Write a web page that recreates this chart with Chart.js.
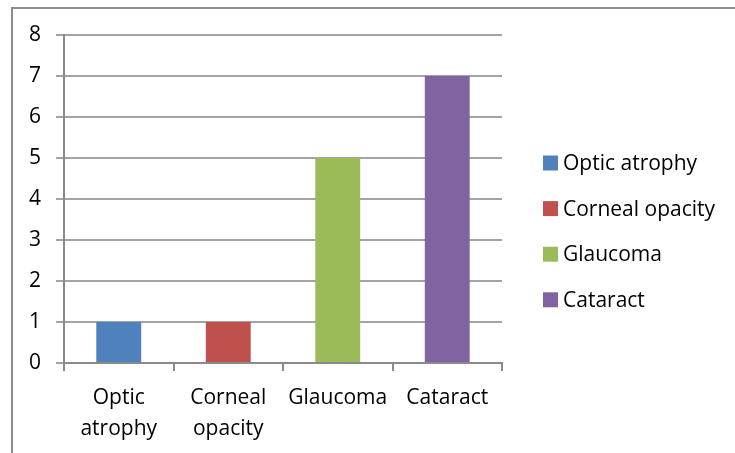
<!DOCTYPE html>
<html>
<head>
<meta charset="utf-8">
<script src="https://cdn.jsdelivr.net/npm/chart.js@4"></script>
<style>
  html, body { margin: 0; padding: 0; background: #fff; }
  #wrap { width: 735px; height: 453px; position: relative; }
</style>
</head>
<body>
<div id="wrap"><canvas id="c" width="735" height="453"></canvas></div>
<script>
// Eye conditions and case counts
const categories = [["Optic", "atrophy"], ["Corneal", "opacity"], "Glaucoma", "Cataract"];
const seriesNames = ["Optic atrophy", "Corneal opacity", "Glaucoma", "Cataract"];
const seriesValues = [1, 1, 5, 7];
const seriesColors = ["#4F81BD", "#C0504D", "#9BBB59", "#8064A2"];
const yTicks = [0, 1, 2, 3, 4, 5, 6, 7, 8];

const FONT = "'Open Sans', Lato, sans-serif";
const FONT_SIZE = 21;
const TEXT = "#000000";

// one dataset per condition, each with a single bar in its own category
const datasets = seriesNames.map((name, i) => ({
  label: name,
  data: seriesValues.map((v, j) => (j === i ? v : null)),
  backgroundColor: seriesColors[i],
  borderWidth: 0,
  grouped: false,
  categoryPercentage: 1,
  barPercentage: 0.41
}));

// outer frame of the chart box
const framePlugin = {
  id: "frame",
  beforeDraw(chart) {
    const ctx = chart.ctx;
    ctx.save();
    ctx.fillStyle = "#ffffff";
    ctx.fillRect(0, 0, chart.width, chart.height);
    ctx.strokeStyle = "#8c8c8c";
    ctx.lineWidth = 2;
    ctx.strokeRect(12, 8, chart.width + 20, chart.height + 20);
    ctx.restore();
  }
};

// legend column to the right of the plot
const legendPlugin = {
  id: "sideLegend",
  afterDraw(chart) {
    const ctx = chart.ctx;
    const area = chart.chartArea;
    const x0 = area.right + 41;
    const y0 = area.top + 128;
    const step = 45.6;
    ctx.save();
    ctx.font = FONT_SIZE + "px " + FONT;
    ctx.textBaseline = "middle";
    ctx.textAlign = "left";
    chart.data.datasets.forEach((ds, i) => {
      const cy = y0 + i * step;
      ctx.fillStyle = ds.backgroundColor;
      ctx.fillRect(x0, cy - 7.5, 15, 15);
      ctx.fillStyle = TEXT;
      ctx.fillText(ds.label, x0 + 20, cy + 1);
    });
    ctx.restore();
  }
};

new Chart(document.getElementById("c"), {
  type: "bar",
  data: { labels: categories, datasets },
  options: {
    responsive: false,
    animation: false,
    devicePixelRatio: 1,
    layout: { padding: { left: 0, right: 233, top: 35, bottom: 0 } },
    plugins: { legend: { display: false }, tooltip: { enabled: false } },
    scales: {
      x: {
        grid: {
          display: true,
          drawOnChartArea: false,
          drawTicks: true,
          tickLength: 8,
          offset: true,
          color: "#8a8a8a",
          lineWidth: 2
        },
        border: { display: true, color: "#8a8a8a", width: 2 },
        ticks: {
          color: TEXT,
          font: { family: FONT, size: FONT_SIZE, lineHeight: 1.45 },
          padding: 12,
          maxRotation: 0,
          autoSkip: false
        },
        afterFit(scale) { scale.height = 90; }
      },
      y: {
        min: 0,
        max: 8,
        afterBuildTicks(scale) { scale.ticks = yTicks.map(v => ({ value: v })); },
        grid: {
          color: "#a3a3a3",
          lineWidth: 2,
          drawTicks: true,
          tickLength: 8
        },
        border: { display: true, color: "#8a8a8a", width: 2 },
        ticks: {
          color: TEXT,
          font: { family: FONT, size: FONT_SIZE },
          padding: 15
        },
        afterFit(scale) { scale.width = 64; }
      }
    }
  },
  plugins: [framePlugin, legendPlugin]
});
</script>
</body>
</html>
